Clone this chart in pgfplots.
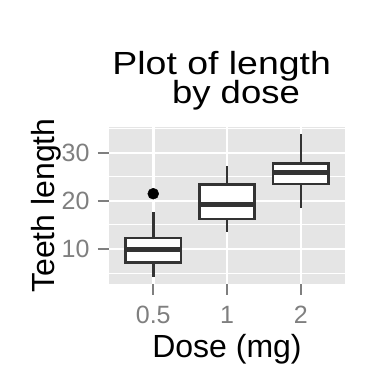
\documentclass[border=0pt]{standalone}
\usepackage{fontspec}
\setmainfont{Liberation Sans}
\usepackage{graphicx}
\usepackage{pgfplots}
\pgfplotsset{compat=1.18}
\definecolor{panelbg}{HTML}{E5E5E5}
\definecolor{boxline}{HTML}{333333}
\definecolor{ticktxt}{HTML}{7F7F7F}
\begin{document}
\begin{tikzpicture}
\path[use as bounding box] (0bp,0bp) rectangle (384bp,384bp);
\fill[white] (0bp,0bp) rectangle (384bp,384bp);
\begin{axis}[at={(109bp,100bp)}, anchor=south west, scale only axis,
 width=236bp, height=157bp,
 xmin=0.4, xmax=3.6, ymin=2.715, ymax=35.385,
 xtick={1,2,3}, xticklabels={0.5,1,2},
 ytick={10,20,30}, minor ytick={5,15,25,35},
 xtick pos=bottom, ytick pos=left,
 axis background/.style={fill=panelbg},
 axis line style={draw=none},
 grid=both,
 major grid style={white, line width=2.5bp},
 minor grid style={white, line width=1bp},
 tick align=outside, major tick length=11bp, minor tick length=0bp,
 major tick style={ticktxt, line width=2bp},
 /pgf/number format/assume math mode=true,
 tick label style={font=\fontsize{25bp}{25bp}\selectfont, text=ticktxt},
 yticklabel style={xshift=-5bp},
 xticklabel style={yshift=-8bp},
 xlabel={Dose (mg)}, ylabel={Teeth length},
 label style={font=\fontsize{32bp}{32bp}\selectfont},
 xlabel style={at={(axis description cs:0.5,-0.465)}, anchor=base},
 ylabel style={at={(axis description cs:-0.229,0.5)}, anchor=base},
]
% whiskers
\addplot[boxline, line width=2.5bp] coordinates {(1,4.2) (1,7.225)};
\addplot[boxline, line width=2.5bp] coordinates {(1,12.25) (1,17.6)};
\addplot[boxline, line width=2.5bp] coordinates {(2,13.6) (2,16.25)};
\addplot[boxline, line width=2.5bp] coordinates {(2,23.375) (2,27.3)};
\addplot[boxline, line width=2.5bp] coordinates {(3,18.5) (3,23.525)};
\addplot[boxline, line width=2.5bp] coordinates {(3,27.825) (3,33.9)};
% boxes
\addplot[draw=boxline, fill=white, line width=2.5bp, line join=miter] coordinates {(0.625,7.225) (1.375,7.225) (1.375,12.25) (0.625,12.25) (0.625,7.225)} -- cycle;
\addplot[draw=boxline, fill=white, line width=2.5bp, line join=miter] coordinates {(1.625,16.25) (2.375,16.25) (2.375,23.375) (1.625,23.375) (1.625,16.25)} -- cycle;
\addplot[draw=boxline, fill=white, line width=2.5bp, line join=miter] coordinates {(2.625,23.525) (3.375,23.525) (3.375,27.825) (2.625,27.825) (2.625,23.525)} -- cycle;
% medians
\addplot[boxline, line width=5bp] coordinates {(0.625,9.85) (1.375,9.85)};
\addplot[boxline, line width=5bp] coordinates {(1.625,19.25) (2.375,19.25)};
\addplot[boxline, line width=5bp] coordinates {(2.625,25.95) (3.375,25.95)};
% outlier
\addplot[only marks, mark=*, mark size=5.5bp, black] coordinates {(1,21.5)};
\end{axis}
\node[anchor=base, font=\fontsize{32bp}{32bp}\selectfont] at (221.7bp,309.7bp) {\scalebox{1.17}[1]{Plot of length}};
\node[anchor=base, font=\fontsize{32bp}{32bp}\selectfont] at (236bp,280bp) {\scalebox{1.14}[1]{by dose}};
\end{tikzpicture}
\end{document}
